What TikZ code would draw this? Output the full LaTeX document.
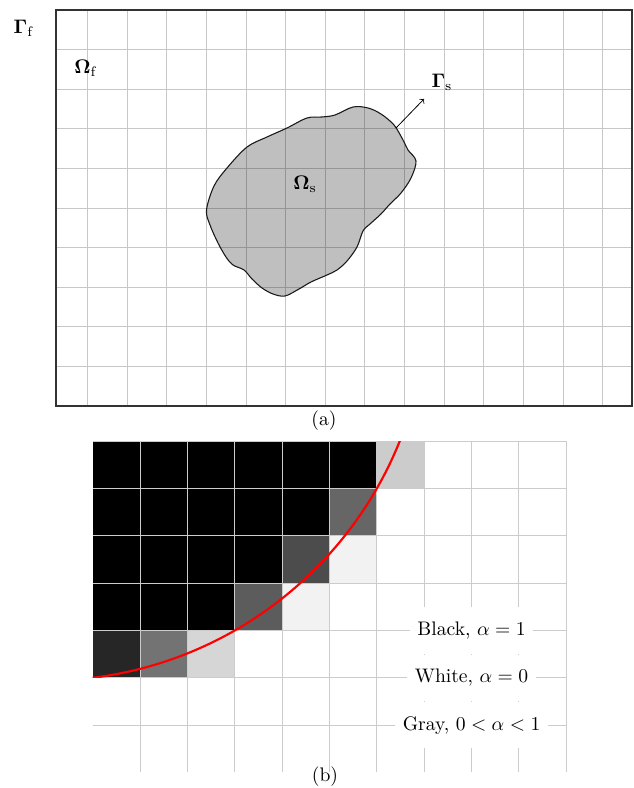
\documentclass[tikz,border=0pt]{standalone}

\tikzset{
  gridline/.style={black!22, line width=0.5pt},
  framebox/.style={black!80, line width=1pt},
  solidbody/.style={fill=black, fill opacity=0.25, draw=black!90, line width=0.55pt},
  vofgrid/.style={black!20, line width=0.5pt},
  legend/.style={fill=white, inner xsep=3.8pt, minimum height=23.6pt},
}

\begin{document}
\begin{tikzpicture}[x=0.51pt, y=-0.51pt]
  \useasboundingbox (0,0) rectangle (633,788);

  %% ---- (a) fluid box with immersed solid ----
  \begin{scope}[shift={(56,10)}, x=20.2pt, y=-20.2pt]
    \foreach \i in {0,...,13}
      \draw[gridline] (0.8+\i,0) -- (0.8+\i,10);
    \foreach \j in {1,...,9}
      \draw[gridline] (0,\j) -- (14.55,\j);
  \end{scope}

  %% Solid body
  \filldraw[solidbody] plot[smooth cycle, tension=0.55] coordinates {
    (206.5,210) (214,186) (227,168) (247,147) (267,137) (287,128)
    (307,118) (322,117) (335,115) (353,107) (368,108) (381,114)
    (394,125) (403,140) (408,150) (416,161) (411,178) (401,193)
    (390,204) (381,214) (370,224) (363,231) (357,247) (347,261)
    (337,270) (327,275) (311,282) (299,289) (285,296) (273,294)
    (262,288) (252,279) (244,270) (233,265) (226,257) (218,243)
    (210,225)};

  \draw[framebox] (56,10) rectangle (632,406);

  %% Labels
  \node (gmf) at (24,28) {$\mathbf{\Gamma}_{\mathrm{f}}$};
  \node (omf) at (86,68) {$\mathbf{\Omega}_{\mathrm{f}}$};
  \node (oms) at (305,184) {$\mathbf{\Omega}_{\mathrm{s}}$};
  \node (gms) at (442,82) {$\mathbf{\Gamma}_{\mathrm{s}}$};

  %% Normal on the interface
  \coordinate (gs0) at (396,128);
  \coordinate (gs1) at (424,99);
  \draw[->] (gs0) -- (gs1);

  \node (capa) at (324,421) {(a)};

  %% ---- (b) volume fractions on the cells ----
  \begin{scope}[shift={(92.7,441)}, x=24.15pt, y=-24.15pt]
    %% full cells, alpha = 1
    \foreach \r/\n in {0/5,1/4,2/3,3/2}
      \foreach \c in {0,...,\n}
        \fill[black] (\c,\r) rectangle ++(1,1);
    %% cut cells
    \foreach \c/\r/\g in {6/0/20, 5/1/60, 4/2/70, 5/2/5, 3/3/64,
                          4/3/5, 0/4/85, 1/4/55, 2/4/16}
      \fill[black!\g] (\c,\r) rectangle ++(1,1);

    %% Grid
    \foreach \r in {0,...,6}
      \draw[vofgrid] (0,\r) -- (10,\r);
    \foreach \c in {1,...,10}
      \draw[vofgrid] (\c,0) -- (\c,6.98);

    %% Interface
    \begin{scope}
      \clip (0,0) rectangle (10,5);
      \draw[red, line width=1.1pt] (-1,-3) circle[radius=8.062];
    \end{scope}

    \node[legend] (blk) at (8,4) {Black, $\alpha=1$};
    \node[legend] (wht) at (8,5) {White, $\alpha=0$};
    \node[legend] (gry) at (8,6) {Gray, $0<\alpha<1$};
  \end{scope}

  \node (capb) at (325,777) {(b)};

\end{tikzpicture}
\end{document}
